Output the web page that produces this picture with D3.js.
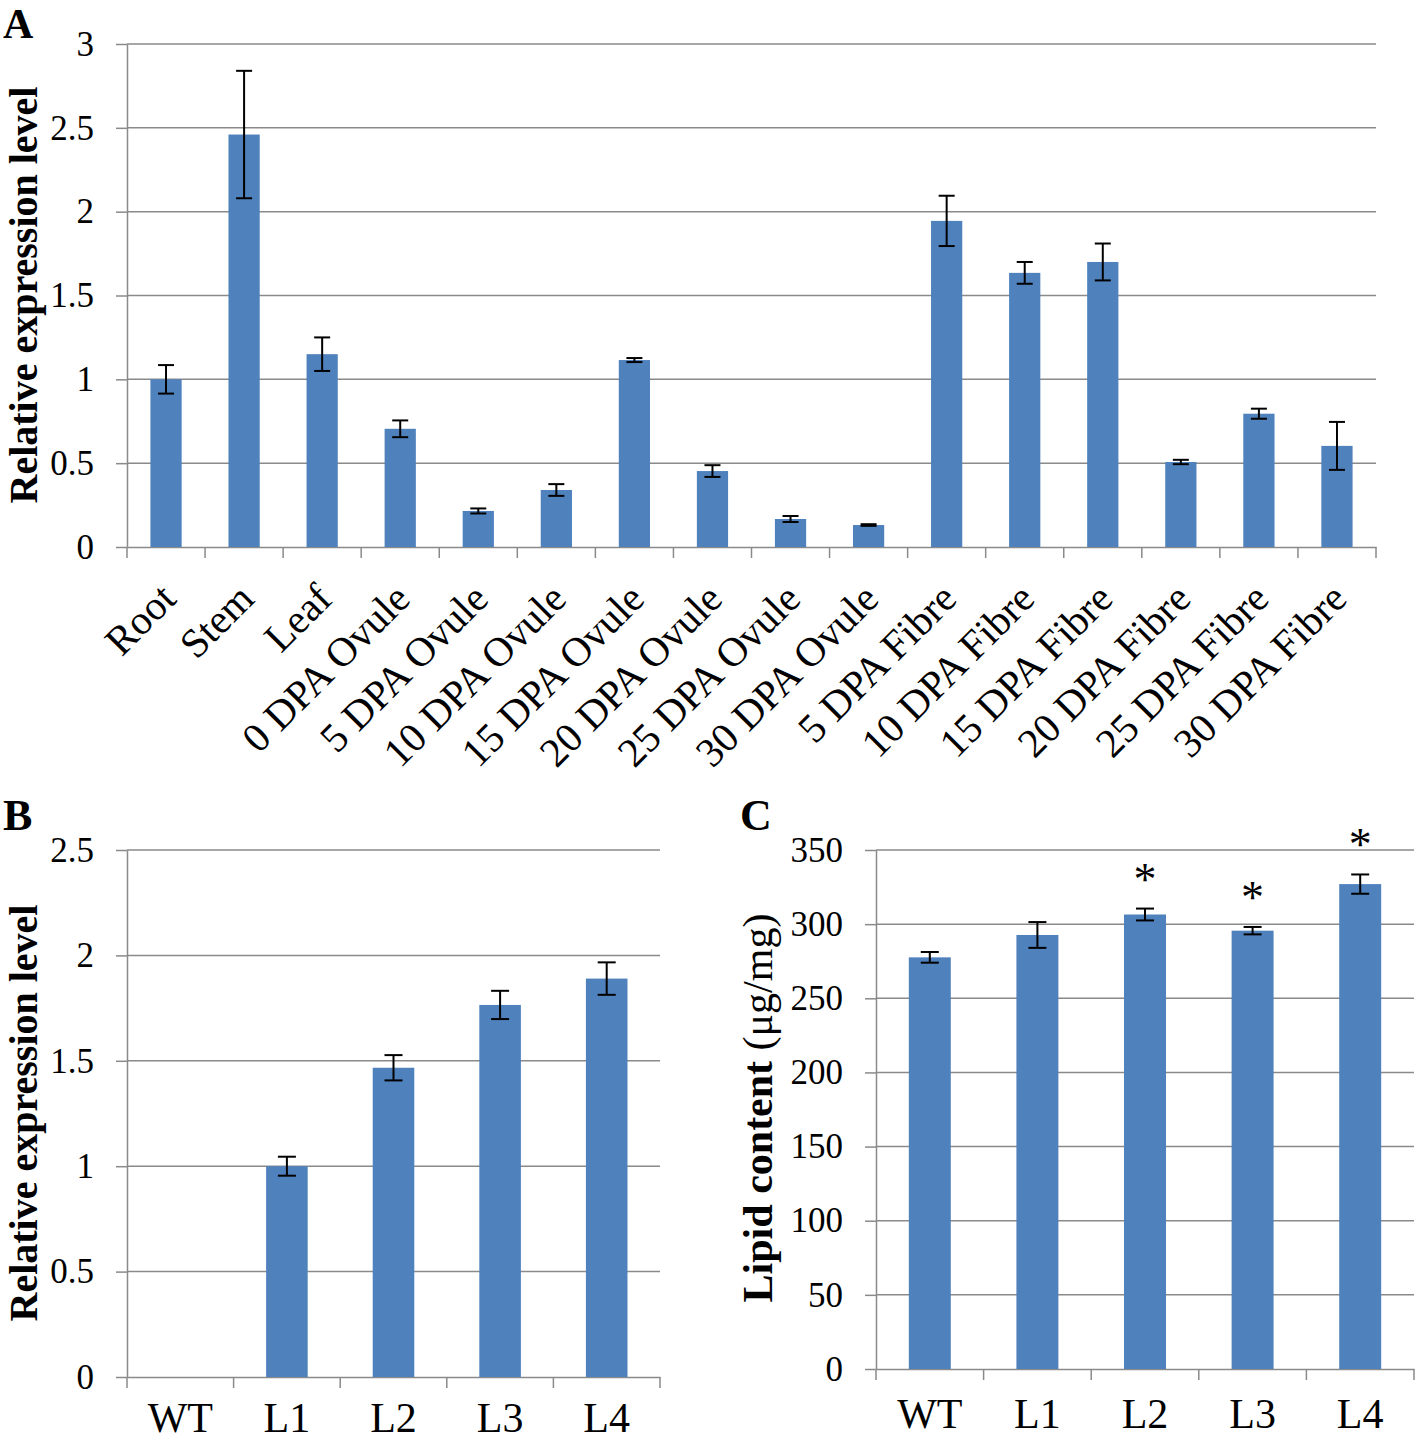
<!DOCTYPE html>
<html><head><meta charset="utf-8">
<script src="https://cdn.jsdelivr.net/npm/d3@7"></script>
<style>
body{margin:0;background:#fff}
svg{display:block}
text{font-family:"Liberation Serif","Times New Roman",serif;fill:#000}
</style>
</head><body><svg id="c" width="1418" height="1443"></svg>
<script>
// ---- data ----
const catsA = ["Root","Stem","Leaf","0 DPA Ovule","5 DPA Ovule","10 DPA Ovule","15 DPA Ovule","20 DPA Ovule","25 DPA Ovule","30 DPA Ovule","5 DPA Fibre","10 DPA Fibre","15 DPA Fibre","20 DPA Fibre","25 DPA Fibre","30 DPA Fibre"];
const valsA = [1.0,2.46,1.15,0.705,0.215,0.34,1.115,0.453,0.167,0.131,1.945,1.635,1.70,0.507,0.795,0.603];
const errA  = [0.085,0.38,0.1,0.05,0.015,0.035,0.012,0.035,0.018,0.005,0.15,0.065,0.11,0.013,0.03,0.143];
const ticksA = [0,0.5,1,1.5,2,2.5,3];

const catsB = ["WT","L1","L2","L3","L4"];
const valsB = [0,1.0,1.467,1.765,1.89];
const errB  = [0,0.045,0.06,0.067,0.077];
const ticksB = [0,0.5,1,1.5,2,2.5];

const catsC = ["WT","L1","L2","L3","L4"];
const valsC = [277.6,292.7,306.5,295.6,327];
const errC  = [3.6,8.7,4,2.5,6.5];
const sigC  = ["","","*","*","*"];
const ticksC = [0,50,100,150,200,250,300,350];

const svg = d3.select("#c");
svg.append("rect").attr("width",1418).attr("height",1443).attr("fill","#fff");

const GRID = "#8a8a8a", BAR = "#4f81bd";

function panel(o){
  const g = svg.append("g");
  const x = d3.scaleBand().domain(o.cats).range([o.x0,o.x1]).padding(0);
  const y = d3.scaleLinear().domain([0,o.ymax]).range([o.yb,o.yt]);
  // gridlines
  g.append("g").selectAll("line").data(o.ticks.filter(t=>t>0)).join("line")
    .attr("x1",o.x0).attr("x2",o.x1).attr("y1",d=>y(d)).attr("y2",d=>y(d))
    .attr("stroke",GRID).attr("stroke-width",1.5);
  // y axis
  const ya = g.append("g").attr("transform",`translate(${o.x0},0)`)
    .call(d3.axisLeft(y).tickValues(o.ticks).tickSize(11).tickSizeOuter(0).tickPadding(o.tpad).tickFormat(d=>String(d)));
  ya.selectAll("path,line").attr("stroke",GRID).attr("stroke-width",1.5);
  ya.selectAll("text").attr("font-size",o.tfs).attr("font-family","Liberation Serif").attr("fill","#000");
  // x axis
  const xa = g.append("g").attr("transform",`translate(0,${o.yb})`)
    .call(d3.axisBottom(x).tickSize(0).tickSizeOuter(0).tickPadding(o.xpad));
  xa.select("path").attr("stroke",GRID).attr("stroke-width",1.5);
  xa.selectAll("text").attr("font-size",o.xfs).attr("font-family","Liberation Serif").attr("fill","#000");
  if(o.rot){
    xa.selectAll("text").attr("text-anchor","end").attr("dy",null).attr("y",null)
      .attr("transform",`translate(${o.rdx},${o.rdy}) rotate(-45)`);
  }
  // boundary ticks
  const bounds = o.cats.map(c=>x(c)).concat([o.x1]);
  g.append("g").selectAll("line").data(bounds).join("line")
    .attr("x1",d=>d).attr("x2",d=>d).attr("y1",o.yb).attr("y2",o.yb+11)
    .attr("stroke",GRID).attr("stroke-width",1.5);
  // bars
  const bw = x.bandwidth()*o.bf;
  const data = o.cats.map((c,i)=>({c,v:o.vals[i],e:o.errs[i],s:o.sig?o.sig[i]:""}));
  g.append("g").selectAll("rect").data(data.filter(d=>d.v>0)).join("rect")
    .attr("x",d=>x(d.c)+x.bandwidth()/2-bw/2).attr("width",bw)
    .attr("y",d=>y(d.v)).attr("height",d=>y(0)-y(d.v)).attr("fill",BAR);
  // error bars
  const eb = g.append("g").selectAll("g").data(data.filter(d=>d.e>0)).join("g")
    .attr("stroke","#000").attr("stroke-width",2);
  const cx = d=>x(d.c)+x.bandwidth()/2;
  eb.append("line").attr("x1",cx).attr("x2",cx).attr("y1",d=>y(d.v-d.e)).attr("y2",d=>y(d.v+d.e));
  eb.append("line").attr("x1",d=>cx(d)-o.cap/2).attr("x2",d=>cx(d)+o.cap/2).attr("y1",d=>y(d.v+d.e)).attr("y2",d=>y(d.v+d.e));
  eb.append("line").attr("x1",d=>cx(d)-o.cap/2).attr("x2",d=>cx(d)+o.cap/2).attr("y1",d=>y(d.v-d.e)).attr("y2",d=>y(d.v-d.e));
  // significance
  if(o.sig){
    g.append("g").selectAll("text").data(data.filter(d=>d.s)).join("text")
      .attr("x",cx).attr("y",d=>y(d.v+d.e)-14).attr("text-anchor","middle")
      .attr("font-size",46).text(d=>d.s);
  }
  return {x,y};
}

panel({cats:catsA,vals:valsA,errs:errA,ticks:ticksA,ymax:3,x0:127,x1:1376,yb:547,yt:44,
  tpad:22,tfs:35,xpad:0,xfs:41,rot:true,rdx:12,rdy:54,bf:0.4,cap:16});
panel({cats:catsB,vals:valsB,errs:errB,ticks:ticksB,ymax:2.5,x0:127,x1:660,yb:1377,yt:850,
  tpad:22,tfs:35,xpad:25,xfs:42,rot:false,bf:0.39,cap:18});
panel({cats:catsC,vals:valsC,errs:errC,ticks:ticksC,ymax:350,x0:876,x1:1414,yb:1369,yt:850,
  tpad:22,tfs:35,xpad:29,xfs:42,rot:false,bf:0.39,cap:18,sig:sigC});

// axis titles
svg.append("text").attr("transform","translate(37,295) rotate(-90)").attr("text-anchor","middle")
  .attr("font-size",40).attr("font-weight","bold").text("Relative expression level");
svg.append("text").attr("transform","translate(37,1113) rotate(-90)").attr("text-anchor","middle")
  .attr("font-size",40).attr("font-weight","bold").text("Relative expression level");
const tc = svg.append("text").attr("transform","translate(772,1108) rotate(-90)").attr("text-anchor","middle")
  .attr("font-size",42);
tc.append("tspan").attr("font-weight","bold").text("Lipid content ");
tc.append("tspan").text("(μg/mg)");

// panel letters
svg.append("text").attr("x",3).attr("y",38).attr("font-size",42).attr("font-weight","bold").text("A");
svg.append("text").attr("x",3).attr("y",830).attr("font-size",44).attr("font-weight","bold").text("B");
svg.append("text").attr("x",740).attr("y",830).attr("font-size",44).attr("font-weight","bold").text("C");
</script></body></html>
